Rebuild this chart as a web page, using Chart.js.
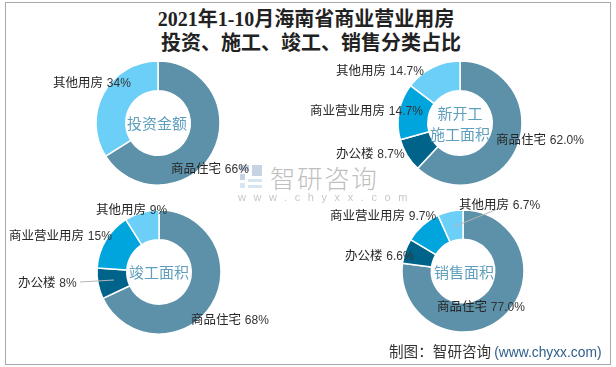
<!DOCTYPE html>
<html>
<head>
<meta charset="utf-8">
<script src="https://cdn.jsdelivr.net/npm/chart.js@4"></script>
<style>
  html, body { margin: 0; padding: 0; background: #fff; }
  #page { position: relative; width: 616px; height: 367px; overflow: hidden; font-family: "Noto Sans CJK SC", sans-serif; color: #262626; }
  #frame { position: absolute; left: 5px; top: 2px; width: 604px; height: 361px; border: 1px solid #a9a9a9; }
  #title { position: absolute; left: 0; top: 7px; width: 612px; text-align: center; font: bold 20px/24px "Liberation Serif", "Noto Sans CJK SC", serif; color: #222; }
  #title span { position: relative; left: 5px; }
  .pie { position: absolute; width: 140px; height: 140px; }
  .lab { position: absolute; font-size: 12.5px; line-height: 16px; white-space: nowrap; }
  .lab span { font: 12px "Liberation Sans", sans-serif; color: #333; margin-left: 1px; }
  .mid { position: absolute; width: 90px; text-align: center; font-size: 15px; line-height: 21px; color: #5f9fbd; }
  #lines { position: absolute; left: 0; top: 0; }
  #wmLogo { position: absolute; left: 240px; top: 165px; }
  #wmText { position: absolute; left: 270px; top: 161px; font-size: 25.5px; line-height: 32px; letter-spacing: 1.6px; font-weight: 300; color: #bfbfbf; white-space: nowrap; }
  #wmUrl { position: absolute; left: 238px; top: 191px; font: 11px "Liberation Sans", sans-serif; letter-spacing: 7.6px; color: #c8c8c8; white-space: nowrap; }
  #source { position: absolute; left: 389px; top: 341px; font-size: 14.6px; line-height: 20px; white-space: nowrap; color: #333; }
  #source span { font: 13.8px "Liberation Sans", sans-serif; color: #2f5f8a; margin-left: 3px; }
</style>
</head>
<body>
<div id="page">
  <div id="frame"></div>
  <div id="title">2021年1-10月海南省商业营业用房<br><span>投资、施工、竣工、销售分类占比</span></div>
  <canvas class="pie" id="pie1" style="left:88px;top:53px"></canvas>
  <canvas class="pie" id="pie2" style="left:390px;top:53px"></canvas>
  <canvas class="pie" id="pie3" style="left:89px;top:202px"></canvas>
  <canvas class="pie" id="pie4" style="left:393px;top:201px"></canvas>
  <svg id="wmLogo" width="24" height="24">
    <rect x="0" y="0" width="9" height="6" fill="#c5d3e4"/><rect x="12" y="0" width="10" height="11" fill="#c5d3e4"/>
    <rect x="0" y="9" width="5" height="6" fill="#c5d3e4"/><rect x="0" y="18" width="5" height="5" fill="#d5e5f2"/>
    <rect x="8" y="14" width="14" height="3" fill="#d5e5f2"/><rect x="8" y="20" width="14" height="3" fill="#d5e5f2"/>
  </svg>
  <div id="wmText">智研咨询</div>
  <div id="wmUrl">www.chyxx.com</div>
  <svg id="lines" width="616" height="367">
    <line x1="80" y1="282" x2="114" y2="280" stroke="#b5b5b5"/>
    <line x1="500" y1="208" x2="453" y2="227" stroke="#b5b5b5"/>
  </svg>
  <div class="lab" style="left:53px;top:74px">其他用房 <span>34%</span></div>
  <div class="lab" style="left:171px;top:160px">商品住宅 <span>66%</span></div>
  <div class="lab" style="left:336px;top:62px">其他用房 <span>14.7%</span></div>
  <div class="lab" style="left:310px;top:102px">商业营业用房 <span>14.7%</span></div>
  <div class="lab" style="left:336px;top:145px">办公楼 <span>8.7%</span></div>
  <div class="lab" style="left:496px;top:131px">商品住宅 <span>62.0%</span></div>
  <div class="lab" style="left:96px;top:201px">其他用房 <span>9%</span></div>
  <div class="lab" style="left:9px;top:227px">商业营业用房 <span>15%</span></div>
  <div class="lab" style="left:18px;top:274px">办公楼 <span>8%</span></div>
  <div class="lab" style="left:191px;top:311px">商品住宅 <span>68%</span></div>
  <div class="lab" style="left:459px;top:196px">其他用房 <span>6.7%</span></div>
  <div class="lab" style="left:330px;top:207px">商业营业用房 <span>9.7%</span></div>
  <div class="lab" style="left:345px;top:247px">办公楼 <span>6.6%</span></div>
  <div class="lab" style="left:437px;top:298px">商品住宅 <span>77.0%</span></div>
  <div class="mid" style="left:112px;top:112px">投资金额</div>
  <div class="mid" style="left:415px;top:102px">新开工<br>施工面积</div>
  <div class="mid" style="left:114px;top:261px">竣工面积</div>
  <div class="mid" style="left:419px;top:261px">销售面积</div>
  <div id="source">制图：智研咨询<span>(www.chyxx.com)</span></div>
</div>
<script>
const categories4 = ['商品住宅', '办公楼', '商业营业用房', '其他用房'];
const categories2 = ['商品住宅', '其他用房'];
const investValues = [66, 34];
const startValues = [62.0, 8.7, 14.7, 14.7];
const finishValues = [68, 8, 15, 9];
const salesValues = [77.0, 6.6, 9.7, 6.7];
const colors4 = ['#5d91a9', '#00648a', '#00a5de', '#6bcff8'];
const colors2 = ['#5d91a9', '#6bcff8'];

function renderPie(id, labels, values, colors, radius) {
    const ctx = document.getElementById(id).getContext('2d');
    new Chart(ctx, {
        type: 'doughnut',
        data: {
            labels: labels,
            datasets: [{
                data: values,
                backgroundColor: colors,
                borderColor: '#ffffff',
                borderWidth: 1.5
            }]
        },
        options: {
            responsive: false,
            animation: false,
            radius: radius,
            cutout: '52%',
            plugins: {
                legend: { display: false },
                tooltip: { enabled: false }
            }
        }
    });
}

renderPie('pie1', categories2, investValues, colors2, 62);
renderPie('pie2', categories4, startValues, colors4, 62);
renderPie('pie3', categories4, finishValues, colors4, 62);
renderPie('pie4', categories4, salesValues, colors4, 61);
</script>
</body>
</html>
